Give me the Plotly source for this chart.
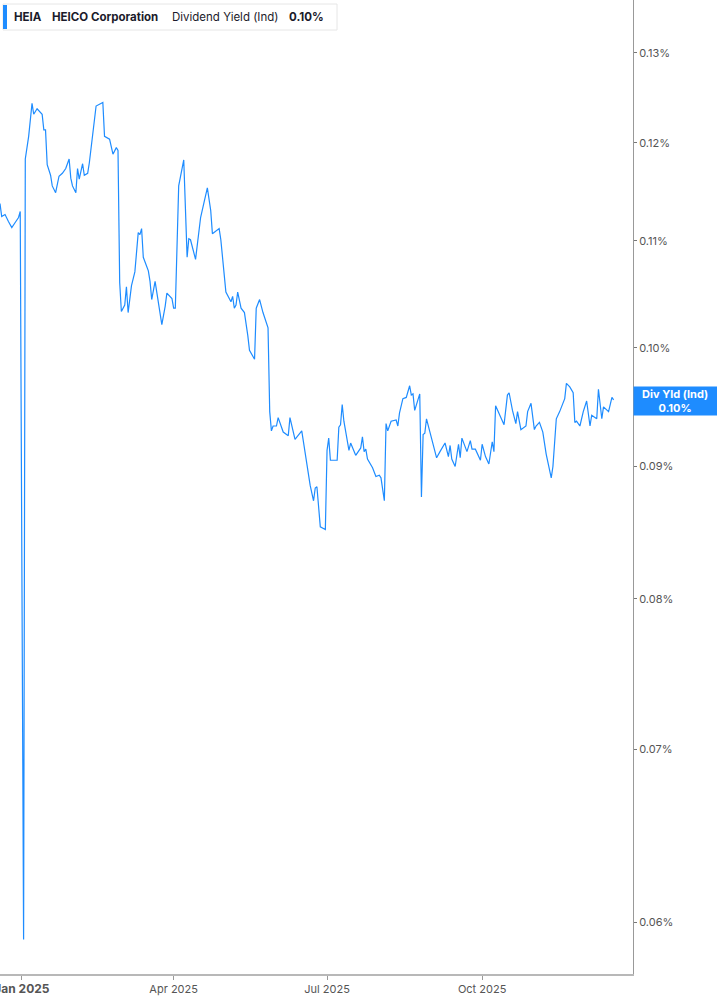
import plotly.graph_objects as go

dates = [
    "2024-12-19", "2024-12-20", "2024-12-21", "2024-12-22", "2024-12-24", "2024-12-26",
    "2024-12-28", "2024-12-30", "2024-12-31", "2025-01-02", "2025-01-03", "2025-01-05",
    "2025-01-07", "2025-01-08", "2025-01-10", "2025-01-11", "2025-01-13", "2025-01-14",
    "2025-01-15", "2025-01-16", "2025-01-18", "2025-01-19", "2025-01-21", "2025-01-23",
    "2025-01-25", "2025-01-27", "2025-01-29", "2025-01-30", "2025-01-31", "2025-02-02",
    "2025-02-03", "2025-02-04", "2025-02-06", "2025-02-07", "2025-02-09", "2025-02-10",
    "2025-02-12", "2025-02-14", "2025-02-18", "2025-02-19", "2025-02-22", "2025-02-24",
    "2025-02-26", "2025-02-27", "2025-02-28", "2025-03-01", "2025-03-03", "2025-03-04",
    "2025-03-05", "2025-03-07", "2025-03-09", "2025-03-10", "2025-03-11", "2025-03-12",
    "2025-03-13", "2025-03-14", "2025-03-17", "2025-03-18", "2025-03-19", "2025-03-21",
    "2025-03-23", "2025-03-25", "2025-03-27", "2025-03-28", "2025-03-31", "2025-04-01",
    "2025-04-02", "2025-04-04", "2025-04-07", "2025-04-09", "2025-04-10", "2025-04-11",
    "2025-04-14", "2025-04-17", "2025-04-19", "2025-04-21", "2025-04-23", "2025-04-24",
    "2025-04-28", "2025-04-29", "2025-05-02", "2025-05-05", "2025-05-06", "2025-05-07",
    "2025-05-08", "2025-05-09", "2025-05-11", "2025-05-13", "2025-05-15", "2025-05-16",
    "2025-05-19", "2025-05-20", "2025-05-22", "2025-05-24", "2025-05-27", "2025-05-28",
    "2025-05-29", "2025-05-30", "2025-06-01", "2025-06-02", "2025-06-05", "2025-06-08",
    "2025-06-09", "2025-06-10", "2025-06-12", "2025-06-16", "2025-06-19", "2025-06-21",
    "2025-06-23", "2025-06-24", "2025-06-25", "2025-06-27", "2025-06-30", "2025-07-01",
    "2025-07-02", "2025-07-03", "2025-07-07", "2025-07-08", "2025-07-09", "2025-07-10",
    "2025-07-11", "2025-07-14", "2025-07-15", "2025-07-18", "2025-07-21", "2025-07-22",
    "2025-07-23", "2025-07-24", "2025-07-25", "2025-07-28", "2025-07-30", "2025-08-01",
    "2025-08-02", "2025-08-04", "2025-08-05", "2025-08-06", "2025-08-08", "2025-08-11",
    "2025-08-12", "2025-08-13", "2025-08-15", "2025-08-17", "2025-08-19", "2025-08-20",
    "2025-08-21", "2025-08-22", "2025-08-25", "2025-08-26", "2025-08-27", "2025-08-28",
    "2025-08-29", "2025-08-31", "2025-09-02", "2025-09-04", "2025-09-06", "2025-09-09",
    "2025-09-11", "2025-09-12", "2025-09-13", "2025-09-15", "2025-09-17", "2025-09-18",
    "2025-09-19", "2025-09-21", "2025-09-22", "2025-09-24", "2025-09-25", "2025-09-27",
    "2025-09-30", "2025-10-01", "2025-10-03", "2025-10-05", "2025-10-07", "2025-10-08",
    "2025-10-09", "2025-10-14", "2025-10-16", "2025-10-17", "2025-10-19", "2025-10-21",
    "2025-10-22", "2025-10-24", "2025-10-27", "2025-10-28", "2025-10-30", "2025-11-01",
    "2025-11-02", "2025-11-04", "2025-11-06", "2025-11-08", "2025-11-11", "2025-11-12",
    "2025-11-14", "2025-11-16", "2025-11-19", "2025-11-20", "2025-11-22", "2025-11-24",
    "2025-11-25", "2025-11-26", "2025-11-28", "2025-11-30", "2025-12-02", "2025-12-04",
    "2025-12-05", "2025-12-08", "2025-12-09", "2025-12-11", "2025-12-12", "2025-12-15",
    "2025-12-17", "2025-12-18",
]

div_yield = [
    0.1137, 0.1124, 0.1125, 0.1126, 0.1119, 0.1113,
    0.1118, 0.1123, 0.1129, 0.0591, 0.1183, 0.1207,
    0.1243, 0.1231, 0.1237, 0.1235, 0.1231, 0.1214,
    0.1214, 0.1177, 0.1166, 0.1155, 0.1148, 0.1165,
    0.1168, 0.1173, 0.1183, 0.1163, 0.1155, 0.1148,
    0.1173, 0.1162, 0.1178, 0.1166, 0.1168, 0.1179,
    0.1213, 0.1240, 0.1244, 0.1207, 0.1204, 0.1188,
    0.1195, 0.1192, 0.1060, 0.1033, 0.1039, 0.1056,
    0.1032, 0.1057, 0.1070, 0.1087, 0.1108, 0.1106,
    0.1112, 0.1084, 0.1071, 0.1061, 0.1044, 0.1061,
    0.1042, 0.1021, 0.1038, 0.1050, 0.1045, 0.1036,
    0.1036, 0.1155, 0.1182, 0.1084, 0.1102, 0.1101,
    0.1082, 0.1123, 0.1138, 0.1153, 0.1130, 0.1107,
    0.1112, 0.1101, 0.1051, 0.1042, 0.1047, 0.1036,
    0.1039, 0.1051, 0.1036, 0.1032, 0.1011, 0.0998,
    0.0990, 0.1036, 0.1044, 0.1032, 0.1018, 0.0945,
    0.0929, 0.0933, 0.0933, 0.0940, 0.0928, 0.0925,
    0.0940, 0.0934, 0.0922, 0.0929, 0.0902, 0.0885,
    0.0873, 0.0883, 0.0884, 0.0853, 0.0851, 0.0913,
    0.0923, 0.0905, 0.0905, 0.0932, 0.0934, 0.0951,
    0.0937, 0.0913, 0.0919, 0.0909, 0.0915, 0.0924,
    0.0912, 0.0914, 0.0906, 0.0899, 0.0892, 0.0893,
    0.0891, 0.0873, 0.0935, 0.0929, 0.0937, 0.0938,
    0.0933, 0.0944, 0.0956, 0.0957, 0.0967, 0.0959,
    0.0960, 0.0946, 0.0960, 0.0876, 0.0926, 0.0927,
    0.0939, 0.0928, 0.0918, 0.0907, 0.0912, 0.0919,
    0.0908, 0.0917, 0.0906, 0.0900, 0.0918, 0.0907,
    0.0923, 0.0916, 0.0912, 0.0921, 0.0914, 0.0914,
    0.0905, 0.0918, 0.0908, 0.0902, 0.0920, 0.0912,
    0.0950, 0.0934, 0.0959, 0.0961, 0.0946, 0.0935,
    0.0945, 0.0930, 0.0933, 0.0945, 0.0952, 0.0930,
    0.0933, 0.0936, 0.0928, 0.0910, 0.0891, 0.0900,
    0.0939, 0.0945, 0.0956, 0.0969, 0.0966, 0.0961,
    0.0936, 0.0937, 0.0933, 0.0945, 0.0954, 0.0933,
    0.0942, 0.0939, 0.0964, 0.0939, 0.0949, 0.0945,
    0.0957, 0.0955,
]

y_ticks = [0.06, 0.07, 0.08, 0.09, 0.10, 0.11, 0.12, 0.13]
y_tick_labels = ["0.06%", "0.07%", "0.08%", "0.09%", "0.10%", "0.11%", "0.12%", "0.13%"]
x_ticks = ["2025-01-01", "2025-04-01", "2025-07-01", "2025-10-01"]
x_tick_labels = ["<b><span style='font-size:12px'>Jan 2025</span></b>", "Apr 2025", "Jul 2025", "Oct 2025"]

ticker = "HEIA"
company = "HEICO Corporation"
metric = "Dividend Yield (Ind)"
current_label = "0.10%"

LINE = "#1e8cff"
FONT = "Inter"
TXT = "#1b1b2b"

fig = go.Figure()
fig.add_trace(go.Scatter(
    x=dates, y=div_yield, mode="lines",
    line=dict(color=LINE, width=1.2),
    hoverinfo="skip", showlegend=False,
))

W, H = 717, 1005
ml, mr, mt, mb = 0, 84, 0, 31
pw = W - ml - mr
ph = H - mt - mb

def px_x(p):
    return (p - ml) / pw

def px_y(p):
    return 1 - (p - mt) / ph

fig.update_layout(
    width=W, height=H,
    margin=dict(l=ml, r=mr, t=mt, b=mb, pad=0, autoexpand=False),
    paper_bgcolor="white", plot_bgcolor="white",
    font=dict(family=FONT, size=11, color="#555"),
    xaxis=dict(
        type="date",
        range=["2024-12-19 00:00", "2025-12-29 12:00"],
        tickvals=x_ticks, ticktext=x_tick_labels,
        showgrid=False, zeroline=False, automargin=False,
        showline=True, linecolor="#b8b8b8", linewidth=1.5,
        ticks="outside", ticklen=4, tickcolor="#999", tickwidth=1,
        ticklabeloverflow="allow",
        tickfont=dict(family=FONT, size=11, color="#555"),
    ),
    yaxis=dict(
        type="log", side="right",
        range=[-1.2417, -0.86564],
        tickvals=y_ticks, ticktext=y_tick_labels,
        showgrid=False, zeroline=False, automargin=False,
        showline=True, linecolor="#999", linewidth=1,
        ticks="outside", ticklen=3, tickcolor="#777", tickwidth=1,
        tickfont=dict(family=FONT, size=11, color="#555"),
    ),
    shapes=[
        dict(type="rect", xref="paper", yref="paper",
             x0=px_x(3), x1=px_x(337), y0=px_y(30), y1=px_y(4),
             line=dict(color="#e6e6e6", width=1), fillcolor="white", layer="above"),
        dict(type="rect", xref="paper", yref="paper",
             x0=px_x(3), x1=px_x(7), y0=px_y(29), y1=px_y(5),
             line=dict(width=0), fillcolor=LINE, layer="above"),
        dict(type="rect", xref="paper", yref="paper",
             x0=px_x(633.5), x1=px_x(717), y0=px_y(415.5), y1=px_y(386.5),
             line=dict(width=0), fillcolor=LINE, layer="above"),
    ],
    annotations=[
        dict(xref="paper", yref="paper", x=px_x(12), y=px_y(17), xanchor="left", yanchor="middle",
             text=f"<b>{ticker}</b>", showarrow=False, font=dict(family=FONT, size=11.5, color=TXT)),
        dict(xref="paper", yref="paper", x=px_x(50), y=px_y(17), xanchor="left", yanchor="middle",
             text=f"<b>{company}</b>", showarrow=False, font=dict(family=FONT, size=11.5, color=TXT)),
        dict(xref="paper", yref="paper", x=px_x(170), y=px_y(17), xanchor="left", yanchor="middle",
             text=metric, showarrow=False, font=dict(family=FONT, size=11.5, color=TXT)),
        dict(xref="paper", yref="paper", x=px_x(287), y=px_y(17), xanchor="left", yanchor="middle",
             text=f"<b>{current_label}</b>", showarrow=False, font=dict(family=FONT, size=11.5, color=TXT)),
        dict(xref="paper", yref="paper", x=px_x(675), y=px_y(401), xanchor="center", yanchor="middle",
             text="<b>Div Yld (Ind)</b><br><b>" + current_label + "</b>", showarrow=False,
             font=dict(family=FONT, size=11, color="white"), align="center"),
    ],
)

fig.write_html(
    "out.html",
    config={"displayModeBar": False},
    post_script="document.body.style.margin='0';document.body.style.overflow='hidden';",
)
